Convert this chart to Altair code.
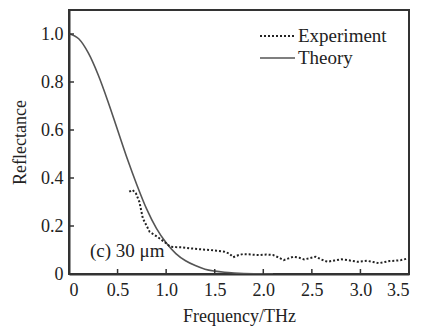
import altair as alt
import pandas as pd

theory_f = [0, 0.1, 0.2, 0.3, 0.4, 0.5, 0.6, 0.7, 0.8, 0.9, 1.0, 1.1, 1.2, 1.3, 1.4, 1.5, 1.6, 1.7, 1.8, 1.9, 2.0, 2.1]
theory_r = [1.0, 0.98, 0.92, 0.83, 0.72, 0.60, 0.48, 0.37, 0.27, 0.19, 0.13, 0.085, 0.055, 0.035, 0.02, 0.012, 0.007, 0.004, 0.002, 0.001, 0.0005, 0.0]

exp_f = [0.62, 0.655, 0.69, 0.725, 0.76, 0.80, 0.83, 0.87, 0.91, 0.96, 1.0, 1.04, 1.1, 1.17, 1.25, 1.35, 1.45, 1.52, 1.6, 1.65, 1.69, 1.74, 1.79, 1.85, 1.91, 1.97, 2.03, 2.1, 2.15, 2.21, 2.26, 2.31, 2.37, 2.42, 2.48, 2.54, 2.6, 2.66, 2.73, 2.8, 2.88, 2.97, 3.02, 3.07, 3.13, 3.19, 3.25, 3.3, 3.35, 3.42, 3.49]
exp_r = [0.343, 0.35, 0.335, 0.30, 0.232, 0.20, 0.176, 0.165, 0.155, 0.14, 0.128, 0.114, 0.112, 0.111, 0.107, 0.103, 0.10, 0.097, 0.093, 0.085, 0.07, 0.078, 0.083, 0.082, 0.080, 0.079, 0.081, 0.079, 0.07, 0.058, 0.065, 0.072, 0.068, 0.061, 0.066, 0.072, 0.06, 0.051, 0.056, 0.061, 0.057, 0.051, 0.053, 0.055, 0.05, 0.045, 0.05, 0.054, 0.055, 0.058, 0.065]

x_ticks = [0, 0.5, 1.0, 1.5, 2.0, 2.5, 3.0, 3.5]
y_ticks = [0, 0.2, 0.4, 0.6, 0.8, 1.0]

series = ["Experiment", "Theory"]
series_dash = [[2, 2], [1, 0]]
series_color = ["#222222", "#555555"]

W, H = 340, 264
FONT = "Liberation Serif"

xs = alt.Scale(domain=[0, 3.5], nice=False, zero=False)
ys = alt.Scale(domain=[0, 1.1], nice=False, zero=False)
lab = "datum.value == 0 ? '0' : format(datum.value, '.1f')"

theory = alt.Chart(pd.DataFrame({"f": theory_f, "r": theory_r})).mark_line(
    clip=True, color=series_color[1], strokeWidth=1.6, interpolate="monotone").encode(
    x=alt.X("f:Q", scale=xs, axis=alt.Axis(title="Frequency/THz", values=x_ticks, labelExpr=lab,
                                             ticks=False, grid=False, labelPadding=7, titlePadding=8)),
    y=alt.Y("r:Q", scale=ys, axis=alt.Axis(title="Reflectance", values=y_ticks, labelExpr=lab,
                                             ticks=False, grid=False, labelPadding=6, titlePadding=11)),
)
exper = alt.Chart(pd.DataFrame({"f": exp_f, "r": exp_r})).mark_line(
    clip=True, color=series_color[0], strokeWidth=2, strokeDash=series_dash[0]).encode(
    x=alt.X("f:Q", scale=xs), y=alt.Y("r:Q", scale=ys))

xt = alt.Chart(pd.DataFrame({"t": x_ticks})).mark_rule(color="#333", strokeWidth=1.5).encode(
    x=alt.X("t:Q", scale=xs), y=alt.value(H - 5), y2=alt.value(H))
yt = alt.Chart(pd.DataFrame({"t": y_ticks})).mark_rule(color="#333", strokeWidth=1.5).encode(
    y=alt.Y("t:Q", scale=ys), x=alt.value(0), x2=alt.value(5))

# legend (manual)
leg_y = [26, 48]
leg = []
for name, dash, col, yy, sw in zip(series, series_dash, series_color, leg_y, [2, 1.6]):
    leg.append(alt.Chart(pd.DataFrame({"n": [name]})).mark_rule(color=col, strokeWidth=sw, strokeDash=dash).encode(
        x=alt.value(191), x2=alt.value(226), y=alt.value(yy)))
    leg.append(alt.Chart(pd.DataFrame({"n": [name]})).mark_text(
        font=FONT, fontSize=19, align="left", baseline="middle", color="#222").encode(
        text="n:N", x=alt.value(229), y=alt.value(yy)))

note = alt.Chart(pd.DataFrame({"t": ["(c) 30 μm"]})).mark_text(
    font=FONT, fontSize=19, align="left", baseline="middle", color="#222").encode(
    text="t:N", x=alt.value(21), y=alt.value(241))

chart = alt.layer(theory, exper, xt, yt, note, *leg).properties(
    width=W, height=H,
    autosize=alt.AutoSizeParams(type="none"),
    padding={"left": 69, "top": 10, "right": 16, "bottom": 55},
).configure_view(stroke="#333", strokeWidth=2).configure_axis(
    labelFont=FONT, titleFont=FONT, labelFontSize=18, titleFontSize=18,
    labelColor="#222", titleColor="#222", titleFontWeight="normal",
    domainColor="#333", domainWidth=2,
)

chart.save("out.html", embed_options={"renderer": "svg", "actions": False})
